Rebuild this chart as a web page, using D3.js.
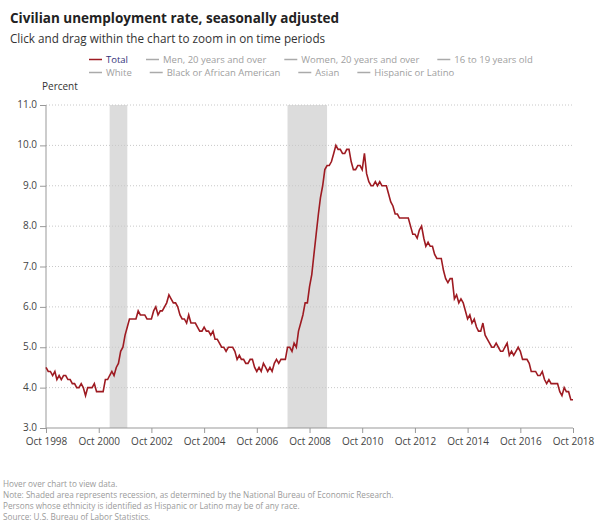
<!DOCTYPE html>
<html lang="en">
<head>
	<meta charset="UTF-8">
	<title>Civilian unemployment rate, seasonally adjusted</title>
	<script src="https://cdn.jsdelivr.net/npm/d3@7"></script>

	<style type="text/css">
		body {
			margin: 0;
			background: #fff;
			font-family: "Open Sans", sans-serif;
		}

		.grid line {
			stroke: #c8c8c8;
			stroke-dasharray: 1, 2;
		}

		.axis path, .axis line {
			stroke: #999;
		}

		.axis text {
			fill: #444;
			font-size: 10px;
			font-family: "Open Sans", sans-serif;
		}

		.recession {
			fill: #dcdcdc;
		}

		.rate {
			fill: none;
			stroke: #9e1b22;
			stroke-width: 1.6;
		}

		.note {
			fill: #9a9a9a;
			font-size: 8.2px;
		}
	</style>
</head>
<body>

<script type="text/javascript">
	// monthly values, Oct 1998 .. Oct 2018
	var startYear = 1998, startMonth = 9;
	var rates = [
		4.5, 4.4, 4.4,
		4.3, 4.4, 4.2, 4.3, 4.2, 4.3, 4.3, 4.2, 4.2, 4.1, 4.1, 4.0,
		4.0, 4.1, 4.0, 3.8, 4.0, 4.0, 4.0, 4.1, 3.9, 3.9, 3.9, 3.9,
		4.2, 4.2, 4.3, 4.4, 4.3, 4.5, 4.6, 4.9, 5.0, 5.3, 5.5, 5.7,
		5.7, 5.7, 5.7, 5.9, 5.8, 5.8, 5.8, 5.7, 5.7, 5.7, 5.9, 6.0,
		5.8, 5.9, 5.9, 6.0, 6.1, 6.3, 6.2, 6.1, 6.1, 6.0, 5.8, 5.7,
		5.7, 5.6, 5.8, 5.6, 5.6, 5.6, 5.5, 5.4, 5.4, 5.5, 5.4, 5.4,
		5.3, 5.4, 5.2, 5.2, 5.1, 5.0, 5.0, 4.9, 5.0, 5.0, 5.0, 4.9,
		4.7, 4.8, 4.7, 4.7, 4.6, 4.6, 4.7, 4.7, 4.5, 4.4, 4.5, 4.4,
		4.6, 4.5, 4.4, 4.5, 4.4, 4.6, 4.7, 4.6, 4.7, 4.7, 4.7, 5.0,
		5.0, 4.9, 5.1, 5.0, 5.4, 5.6, 5.8, 6.1, 6.1, 6.5, 6.8, 7.3,
		7.8, 8.3, 8.7, 9.0, 9.4, 9.5, 9.5, 9.6, 9.8, 10.0, 9.9, 9.9,
		9.8, 9.8, 9.9, 9.9, 9.6, 9.4, 9.4, 9.5, 9.5, 9.4, 9.8, 9.3,
		9.1, 9.0, 9.0, 9.1, 9.0, 9.1, 9.0, 9.0, 9.0, 8.8, 8.6, 8.5,
		8.3, 8.3, 8.2, 8.2, 8.2, 8.2, 8.2, 8.0, 7.8, 7.8, 7.7, 7.9,
		8.0, 7.7, 7.5, 7.6, 7.5, 7.5, 7.3, 7.2, 7.2, 7.2, 6.9, 6.7,
		6.6, 6.7, 6.7, 6.2, 6.3, 6.1, 6.2, 6.1, 5.9, 5.7, 5.8, 5.6,
		5.7, 5.5, 5.4, 5.4, 5.6, 5.3, 5.2, 5.1, 5.0, 5.0, 5.1, 5.0,
		4.9, 4.9, 5.0, 5.1, 4.8, 4.9, 4.8, 4.9, 5.0, 4.9, 4.7, 4.7,
		4.7, 4.6, 4.4, 4.4, 4.4, 4.3, 4.3, 4.4, 4.2, 4.1, 4.2, 4.1,
		4.1, 4.1, 4.1, 3.9, 3.8, 4.0, 3.9, 3.9, 3.7, 3.7
	];

	var recessions = [
		[new Date(2001, 2, 1), new Date(2001, 10, 1)],
		[new Date(2007, 11, 1), new Date(2009, 5, 1)]
	];

	var yTicks = [3, 4, 5, 6, 7, 8, 9, 10, 11];
	var xTickYears = [1998, 2000, 2002, 2004, 2006, 2008, 2010, 2012, 2014, 2016, 2018];

	var legendRow1 = ['Total', 'Men, 20 years and over', 'Women, 20 years and over', '16 to 19 years old'];
	var legendRow2 = ['White', 'Black or African American', 'Asian', 'Hispanic or Latino'];

	var notes = [
		'Hover over chart to view data.',
		'Note: Shaded area represents recession, as determined by the National Bureau of Economic Research.',
		'Persons whose ethnicity is identified as Hispanic or Latino may be of any race.',
		'Source: U.S. Bureau of Labor Statistics.'
	];

	var W = 595, H = 521;
	var margin = {top: 105, left: 46, bottom: 93, right: 22};
	var width = W - margin.left - margin.right;
	var height = H - margin.top - margin.bottom;

	var data = rates.map(function (v, i) {
		return {date: new Date(startYear, startMonth + i, 1), rate: v};
	});

	var svg = d3.select('body').append('svg')
		.attr('width', W)
		.attr('height', H);

	svg.append('text')
		.attr('x', 10).attr('y', 23)
		.style('font-size', '13.5px').style('font-weight', 'bold').style('fill', '#222')
		.text('Civilian unemployment rate, seasonally adjusted');

	svg.append('text')
		.attr('x', 10).attr('y', 43)
		.style('font-size', '11.7px').style('fill', '#333')
		.text('Click and drag within the chart to zoom in on time periods');

	// legend, laid out in rows
	function legendRow(items, y) {
		var x = 89;
		items.forEach(function (name) {
			var total = name === 'Total';
			svg.append('line')
				.attr('x1', x).attr('x2', x + 13)
				.attr('y1', y - 3.5).attr('y2', y - 3.5)
				.style('stroke', total ? '#9e1b22' : '#aaa')
				.style('stroke-width', 1.5);
			var t = svg.append('text')
				.attr('x', x + 17).attr('y', y)
				.style('font-size', '9.5px')
				.style('fill', total ? '#33337a' : '#a0a0a0')
				.text(name);
			x += 17 + t.node().getComputedTextLength() + 18;
		});
	}
	legendRow(legendRow1, 63);
	legendRow(legendRow2, 76);

	svg.append('text')
		.attr('x', 42).attr('y', 90)
		.style('font-size', '10px').style('fill', '#333')
		.text('Percent');

	var g = svg.append('g')
		.attr('transform', 'translate(' + margin.left + ',' + margin.top + ')');

	var x = d3.scaleTime()
		.range([0, width])
		.domain([new Date(1998, 9, 1), new Date(2018, 9, 1)]);

	var y = d3.scaleLinear()
		.range([height, 0])
		.domain([3, 11]);

	g.selectAll('.recession')
		.data(recessions)
		.enter().append('rect')
		.attr('class', 'recession')
		.attr('x', function (d) { return x(d[0]); })
		.attr('width', function (d) { return x(d[1]) - x(d[0]); })
		.attr('y', 0)
		.attr('height', height);

	g.append('g')
		.attr('class', 'grid')
		.selectAll('line')
		.data(yTicks.slice(1))
		.enter().append('line')
		.attr('x1', 0).attr('x2', width)
		.attr('y1', function (d) { return y(d); })
		.attr('y2', function (d) { return y(d); });

	g.append('g')
		.attr('class', 'axis')
		.call(d3.axisLeft(y).tickValues(yTicks).tickFormat(d3.format('.1f')).tickSize(6).tickPadding(3))
		.call(function (a) { a.select('.domain').attr('d', 'M0,0V' + height); })
		.selectAll('text').attr('dy', '0.25em');

	g.append('g')
		.attr('class', 'axis')
		.attr('transform', 'translate(0,' + height + ')')
		.call(d3.axisBottom(x)
			.tickValues(xTickYears.map(function (yr) { return new Date(yr, 9, 1); }))
			.tickFormat(d3.timeFormat('Oct %Y'))
			.tickSize(5).tickPadding(5))
		.call(function (a) { a.select('.domain').attr('d', 'M0,0H' + width); });

	var line = d3.line()
		.x(function (d) { return x(d.date); })
		.y(function (d) { return y(d.rate); });

	g.append('path')
		.datum(data)
		.attr('class', 'rate')
		.attr('d', line);

	svg.selectAll('.note')
		.data(notes)
		.enter().append('text')
		.attr('class', 'note')
		.attr('x', 3)
		.attr('y', function (d, i) { return 487 + i * 11; })
		.text(function (d) { return d; });
</script>

</body>
</html>
